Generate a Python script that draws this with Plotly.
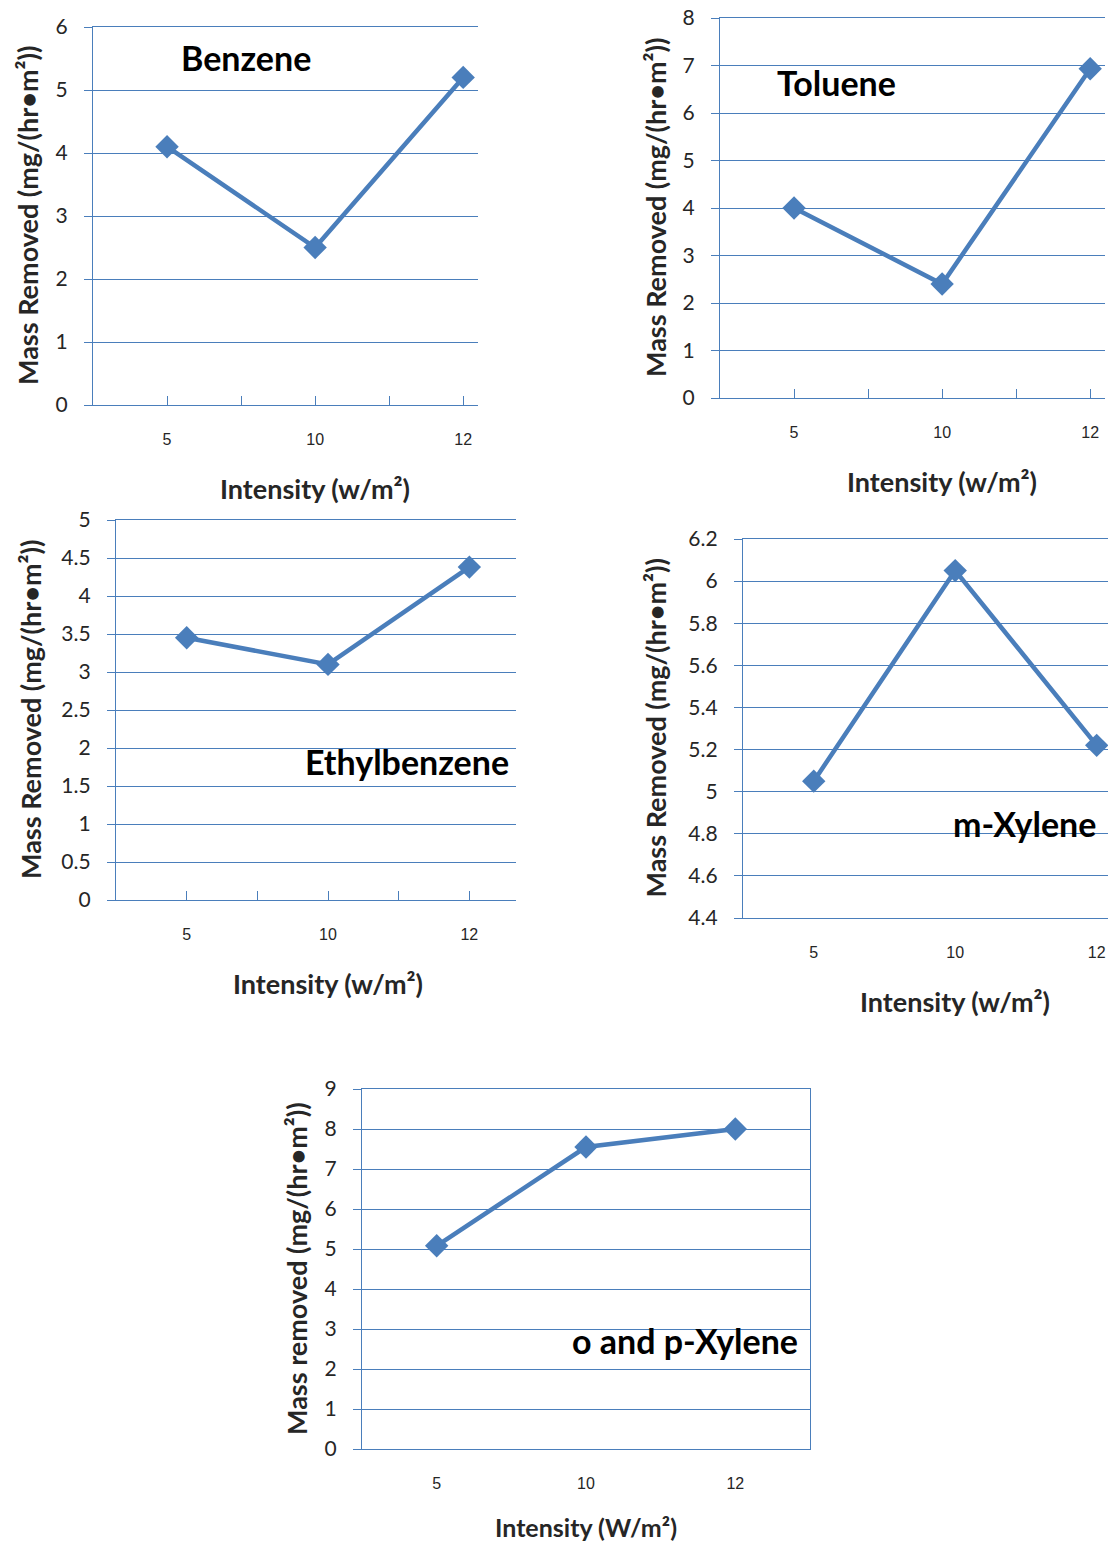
import plotly.graph_objects as go

intensity = ["5", "10", "12"]

benzene = [4.1, 2.5, 5.2]
toluene = [4.0, 2.4, 6.93]
ethylbenzene = [3.45, 3.1, 4.38]
m_xylene = [5.05, 6.05, 5.22]
op_xylene = [5.08, 7.55, 8.0]

names = ["Benzene", "Toluene", "Ethylbenzene", "m-Xylene", "o and p-Xylene"]
ytitles = ["Mass Removed (mg/(hr•m²))"] * 4 + ["Mass removed (mg/(hr•m²))"]
xtitles = ["Intensity (w/m²)"] * 4 + ["Intensity (W/m²)"]
yranges = [[0, 6], [0, 8], [0, 5], [4.4, 6.2], [0, 9]]
ydticks = [1, 1, 0.5, 0.2, 1]

# page body has an 8px margin, so the figure is drawn 8px in from the corner
OFF = 8
W, H = 1117 - OFF, 1545 - OFF
BLUE = "#4A7EBB"
TXT = "#262626"

# panel boxes in page pixels: left, right, top, bottom
boxes = [(93, 478, 27, 405), (720, 1105, 18, 398), (116, 516, 520, 900),
         (743, 1108, 539, 918), (362, 810, 1089, 1449)]
xranges = [[-0.5, 2.1], [-0.5, 2.1], [-0.5, 2.33], [-0.5, 2.08], [-0.5, 2.5]]
half_ticks = [True, True, True, False, False]
ytitle_off = [66, 65, 86, 88, 66]
xtitle_gap = [83, 83, 83, 83, 78]
xtitle_size = [27, 27, 27, 27, 25]
label_pos = [(0.53, 5.52), (0.29, 6.65), (1.56, 1.82), (1.49, 4.85), (1.66, 2.72)]


def px(x):
    return (x - OFF) / W


def py(y):
    return 1 - (y - OFF) / H


series = [benzene, toluene, ethylbenzene, m_xylene, op_xylene]

fig = go.Figure()
annotations = []
idx = list(range(len(intensity)))

for i, vals in enumerate(series):
    n = "" if i == 0 else str(i + 1)
    l, r, t, b = boxes[i]
    fig.add_trace(go.Scatter(
        x=idx, y=vals, mode="lines+markers",
        line=dict(color=BLUE, width=4.5),
        marker=dict(symbol="diamond", size=18, color=BLUE),
        xaxis="x" + n, yaxis="y" + n, showlegend=False))

    if half_ticks[i]:
        tv = [k / 2 for k in range(2 * len(intensity) - 1)]
        tt = [intensity[int(v)] if v == int(v) else "" for v in tv]
        tk = "inside"
    else:
        tv = idx
        tt = intensity
        tk = ""

    fig.update_layout(**{
        "xaxis" + n: dict(
            domain=[px(l), px(r)], anchor="y" + n, range=xranges[i],
            tickmode="array", tickvals=tv, ticktext=tt, ticks=tk,
            ticklen=9, tickcolor=BLUE, tickwidth=1.3,
            showgrid=False, zeroline=False, showline=True, mirror=True,
            automargin=False, linecolor=BLUE, linewidth=1.3, ticklabelstandoff=20,
            tickfont=dict(family="Liberation Sans", size=16, color=TXT)),
        "yaxis" + n: dict(
            domain=[py(b), py(t)], anchor="x" + n, range=yranges[i],
            dtick=ydticks[i], tick0=yranges[i][0],
            ticks="outside", ticklen=8, tickcolor=BLUE, tickwidth=1.3,
            showgrid=True, gridcolor=BLUE, gridwidth=1.3, zeroline=False,
            showline=True, linecolor=BLUE, linewidth=1.3, automargin=False,
            mirror=(i == 4), ticklabelstandoff=12, ticklabeloverflow="allow",
            tickfont=dict(family="Lato", size=21, color=TXT)),
    })

    # chart label
    annotations.append(dict(
        x=label_pos[i][0], y=label_pos[i][1], xref="x" + n, yref="y" + n,
        xanchor="center", yanchor="middle",
        text="<b>" + names[i] + "</b>", showarrow=False,
        font=dict(family="Lato", size=34, color="black")))
    # x title centered on middle category
    annotations.append(dict(
        x=1, y=py(b + xtitle_gap[i]), xref="x" + n, yref="paper",
        xanchor="center", yanchor="middle",
        text="<b>" + xtitles[i] + "</b>", showarrow=False,
        font=dict(family="Lato", size=xtitle_size[i], color=TXT)))
    # y title
    annotations.append(dict(
        x=px(l - ytitle_off[i]), y=py((t + b) / 2), xref="paper", yref="paper",
        xanchor="center", yanchor="middle",
        text="<b>" + ytitles[i] + "</b>", showarrow=False, textangle=-90,
        font=dict(family="Lato", size=27, color=TXT)))

fig.update_layout(
    width=W, height=H,
    margin=dict(l=0, r=0, t=0, b=0),
    paper_bgcolor="white", plot_bgcolor="white",
    annotations=annotations,
)

fig.write_html("out.html", config={"displayModeBar": False})
